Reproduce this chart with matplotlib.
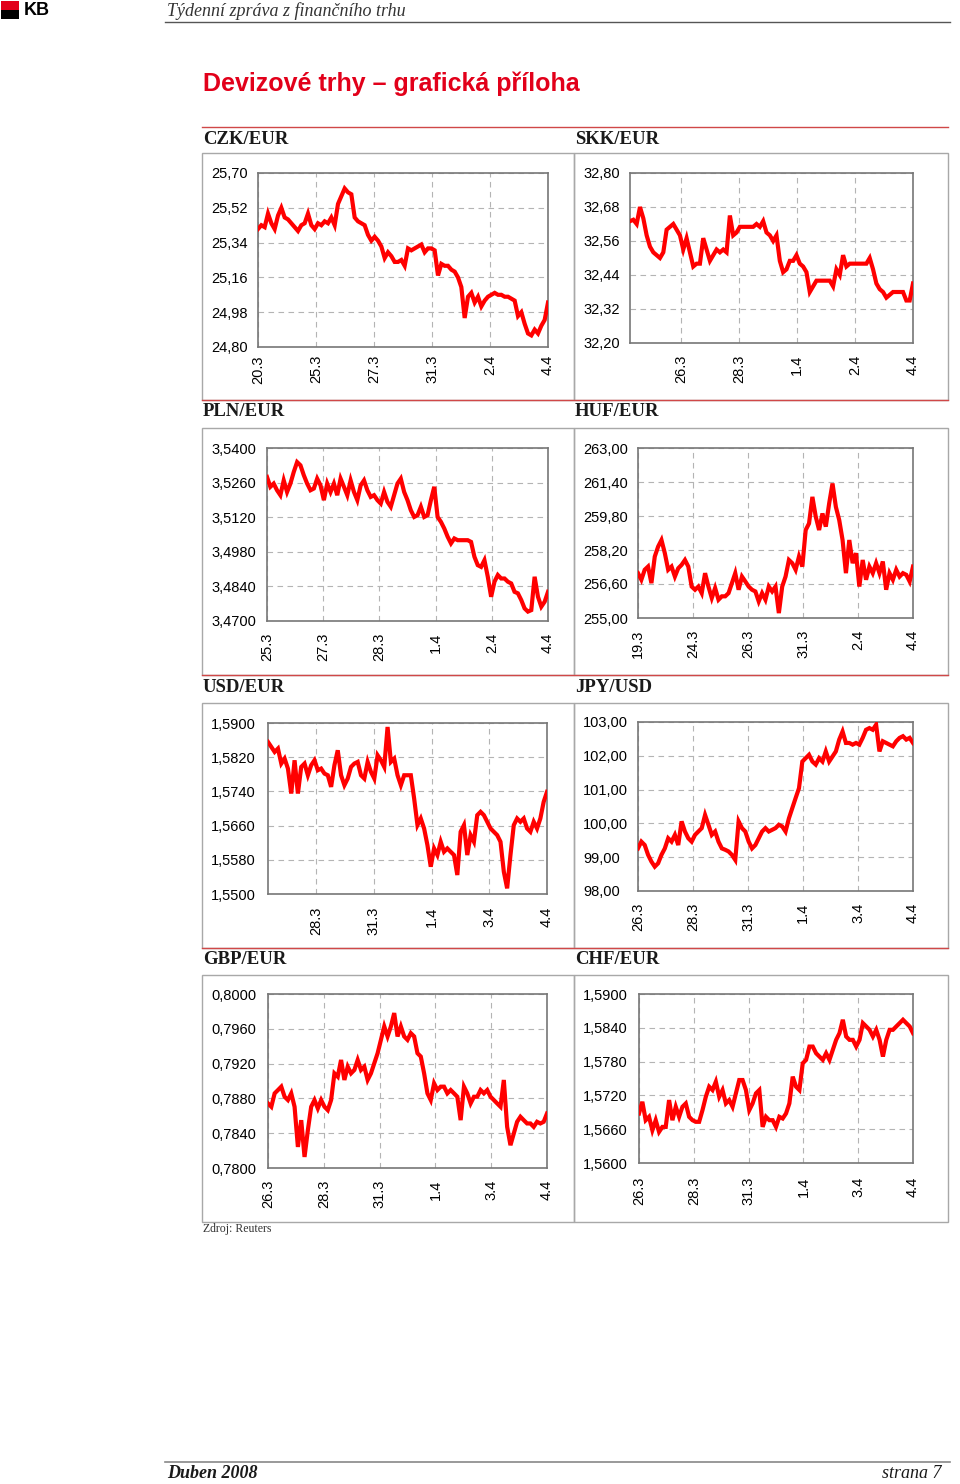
import numpy as np
import matplotlib

matplotlib.use("Agg")
import matplotlib.pyplot as plt  # noqa: E402
from matplotlib.patches import Rectangle  # noqa: E402

W, H = 960, 1484

czk_eur = [
    25.41, 25.43, 25.42, 25.49, 25.44, 25.41, 25.48, 25.52, 25.47, 25.46,
    25.44, 25.42, 25.40, 25.43, 25.44, 25.49, 25.43, 25.41, 25.44, 25.43,
    25.45, 25.44, 25.47, 25.43, 25.54, 25.58, 25.62, 25.60, 25.59, 25.47,
    25.45, 25.44, 25.43, 25.38, 25.35, 25.37, 25.35, 25.32, 25.26, 25.29,
    25.27, 25.24, 25.24, 25.25, 25.22, 25.31, 25.30, 25.31, 25.32, 25.33,
    25.29, 25.31, 25.31, 25.30, 25.17, 25.23, 25.22, 25.22, 25.20, 25.19,
    25.16, 25.11, 24.95, 25.06, 25.08, 25.03, 25.06, 25.01, 25.04, 25.06,
    25.07, 25.08, 25.07, 25.07, 25.06, 25.06, 25.05, 25.04, 24.96, 24.98,
    24.92, 24.87, 24.86, 24.89, 24.87, 24.91, 24.94, 25.03,
]
czk_ticks = ["20.3", "25.3", "27.3", "31.3", "2.4", "4.4"]

skk_eur = [
    32.63, 32.635, 32.62, 32.68, 32.64, 32.58, 32.54, 32.52, 32.51, 32.50,
    32.52, 32.60, 32.61, 32.62, 32.60, 32.58, 32.53, 32.57, 32.52, 32.47,
    32.48, 32.48, 32.57, 32.53, 32.49, 32.51, 32.53, 32.52, 32.53, 32.52,
    32.65, 32.58, 32.59, 32.61, 32.61, 32.61, 32.61, 32.61, 32.62, 32.61,
    32.63, 32.59, 32.58, 32.56, 32.58, 32.49, 32.45, 32.46, 32.49, 32.49,
    32.51, 32.48, 32.47, 32.45, 32.38, 32.40, 32.42, 32.42, 32.42, 32.42,
    32.42, 32.40, 32.46, 32.44, 32.51, 32.47, 32.48, 32.48, 32.48, 32.48,
    32.48, 32.48, 32.50, 32.46, 32.41, 32.39, 32.38, 32.36, 32.37, 32.38,
    32.38, 32.38, 32.38, 32.35, 32.35, 32.41,
]
skk_ticks = ["26.3", "28.3", "1.4", "2.4", "4.4"]

pln_eur = [
    3.5283, 3.5243, 3.5256, 3.5229, 3.5209, 3.5269, 3.5222, 3.5256, 3.5303, 3.5343,
    3.5330, 3.5290, 3.5256, 3.5229, 3.5236, 3.5276, 3.5249, 3.5189, 3.5256, 3.5222,
    3.5256, 3.5209, 3.5276, 3.5243, 3.5209, 3.5269, 3.5222, 3.5189, 3.5249, 3.5269,
    3.5229, 3.5202, 3.5209, 3.5189, 3.5175, 3.5222, 3.5182, 3.5162, 3.5209, 3.5256,
    3.5276, 3.5222, 3.5189, 3.5148, 3.5121, 3.5128, 3.5162, 3.5121, 3.5128, 3.5189,
    3.5243, 3.5121, 3.5101, 3.5074, 3.5041, 3.5014, 3.5034, 3.5027, 3.5027, 3.5027,
    3.5027, 3.5020, 3.4960, 3.4926, 3.4919, 3.4946, 3.4879, 3.4798, 3.4859, 3.4886,
    3.4872, 3.4872, 3.4859, 3.4852, 3.4818, 3.4812, 3.4785, 3.4751, 3.4738, 3.4744,
    3.4879, 3.4798, 3.4758, 3.4778, 3.4818,
]
pln_ticks = ["25.3", "27.3", "28.3", "1.4", "2.4", "4.4"]

huf_eur = [
    257.11, 256.80, 257.27, 257.42, 256.64, 257.89, 258.36, 258.67, 258.05, 257.27,
    257.42, 256.95, 257.34, 257.50, 257.73, 257.42, 256.48, 256.33, 256.48, 256.17,
    257.11, 256.48, 255.94, 256.41, 255.86, 256.02, 256.02, 256.17, 256.64, 257.11,
    256.33, 256.95, 256.72, 256.48, 256.33, 256.25, 255.78, 256.17, 255.86, 256.48,
    256.25, 256.48, 255.23, 256.48, 256.95, 257.73, 257.58, 257.27, 257.89, 257.42,
    259.14, 259.45, 260.70, 259.77, 259.14, 259.92, 259.30, 260.39, 261.33, 260.23,
    259.61, 258.67, 257.11, 258.67, 257.58, 258.05, 256.48, 257.73, 256.80, 257.42,
    257.11, 257.58, 257.11, 257.66, 256.33, 257.11, 256.80, 257.27, 256.95, 257.11,
    257.03, 256.72, 257.42,
]
huf_ticks = ["19.3", "24.3", "26.3", "31.3", "2.4", "4.4"]

usd_eur = [
    1.58556, 1.58440, 1.58323, 1.58401, 1.58051, 1.58167, 1.57934, 1.57350, 1.58128, 1.57350,
    1.57973, 1.58051, 1.57778, 1.58012, 1.58128, 1.57895, 1.57934, 1.57817, 1.57778, 1.57506,
    1.58012, 1.58362, 1.57778, 1.57545, 1.57700, 1.57973, 1.58051, 1.58090, 1.57778, 1.57700,
    1.58090, 1.57856, 1.57700, 1.58245, 1.58128, 1.57973, 1.58907, 1.58090, 1.58167, 1.57778,
    1.57545, 1.57778, 1.57778, 1.57778, 1.57233, 1.56611, 1.56767, 1.56533, 1.56144, 1.55638,
    1.56066, 1.55911, 1.56222, 1.55988, 1.56066, 1.55988, 1.55911, 1.55444, 1.56455, 1.56611,
    1.55911, 1.56377, 1.56222, 1.56844, 1.56922, 1.56844, 1.56689, 1.56533, 1.56455, 1.56377,
    1.56222, 1.55521, 1.55132, 1.55911, 1.56611, 1.56767, 1.56689, 1.56767, 1.56533, 1.56455,
    1.56689, 1.56533, 1.56767, 1.57156, 1.57389,
]
usd_ticks = ["28.3", "31.3", "1.4", "3.4", "4.4"]

jpy_usd = [
    99.26, 99.46, 99.36, 99.07, 98.87, 98.72, 98.82, 99.07, 99.26, 99.56,
    99.46, 99.66, 99.36, 100.06, 99.76, 99.56, 99.46, 99.66, 99.76, 99.86,
    100.25, 99.96, 99.66, 99.76, 99.46, 99.26, 99.22, 99.17, 99.07, 98.92,
    100.06, 99.86, 99.76, 99.46, 99.26, 99.36, 99.56, 99.76, 99.86, 99.76,
    99.81, 99.86, 99.96, 99.91, 99.76, 100.15, 100.45, 100.75, 101.04, 101.83,
    101.93, 102.03, 101.83, 101.74, 101.93, 101.83, 102.13, 101.83, 101.98, 102.13,
    102.48, 102.72, 102.38, 102.38, 102.33, 102.38, 102.33, 102.53, 102.77, 102.82,
    102.77, 102.92, 102.13, 102.43, 102.38, 102.33, 102.28, 102.43, 102.53, 102.58,
    102.48, 102.53, 102.38,
]
jpy_ticks = ["26.3", "28.3", "31.3", "1.4", "3.4", "4.4"]

gbp_eur = [
    0.78742, 0.78704, 0.78858, 0.78896, 0.78935, 0.78819, 0.78781, 0.78858, 0.78704, 0.78242,
    0.78550, 0.78127, 0.78435, 0.78704, 0.78781, 0.78685, 0.78781, 0.78704, 0.78665, 0.78781,
    0.79088, 0.79050, 0.79242, 0.79012, 0.79165, 0.79088, 0.79127, 0.79242, 0.79127, 0.79165,
    0.79012, 0.79088, 0.79204, 0.79319, 0.79473, 0.79627, 0.79512, 0.79627, 0.79781, 0.79512,
    0.79627, 0.79512, 0.79473, 0.79550, 0.79512, 0.79319, 0.79281, 0.79088, 0.78858, 0.78781,
    0.78973, 0.78896, 0.78935, 0.78935, 0.78858, 0.78896, 0.78858, 0.78819, 0.78550, 0.78935,
    0.78858, 0.78742, 0.78819, 0.78819, 0.78896, 0.78858, 0.78896, 0.78819, 0.78781, 0.78742,
    0.78704, 0.79012, 0.78473, 0.78262, 0.78396, 0.78531, 0.78589, 0.78550, 0.78512, 0.78512,
    0.78473, 0.78531, 0.78512, 0.78531, 0.78627,
]
gbp_ticks = ["26.3", "28.3", "31.3", "1.4", "3.4", "4.4"]

chf_eur = [
    1.56879, 1.57087, 1.56760, 1.56820, 1.56582, 1.56760, 1.56552, 1.56641, 1.56641, 1.57117,
    1.56760, 1.56998, 1.56820, 1.56998, 1.57057, 1.56820, 1.56760, 1.56731, 1.56731, 1.56938,
    1.57176, 1.57354, 1.57295, 1.57443, 1.57176, 1.57295, 1.57057, 1.57117, 1.56998, 1.57236,
    1.57473, 1.57473, 1.57295, 1.56938, 1.57057, 1.57236, 1.57295, 1.56641, 1.56820, 1.56760,
    1.56760, 1.56641, 1.56820, 1.56790, 1.56879, 1.57057, 1.57533, 1.57354, 1.57295, 1.57770,
    1.57830, 1.58067, 1.58067, 1.57948, 1.57889, 1.57830, 1.57948, 1.57830, 1.58008, 1.58186,
    1.58305, 1.58543, 1.58245, 1.58186, 1.58186, 1.58067, 1.58186, 1.58483, 1.58424, 1.58364,
    1.58245, 1.58364, 1.58186, 1.57889, 1.58186, 1.58364, 1.58364, 1.58424, 1.58483, 1.58543,
    1.58483, 1.58424, 1.58305,
]
chf_ticks = ["26.3", "28.3", "31.3", "1.4", "3.4", "4.4"]

# --- layout (pixels in a 960x1484 page) ---
RED = "#ff0000"
KB_RED = "#e2001a"
SEP_RED = "#d04848"
BOX_GREY = "#a8a8a8"

# name, values, x tick labels, y range, decimals, axes px (l, t, r, b),
# x start (tick units), y-label x, x-label pad px
PANELS = [
    ("CZK/EUR", czk_eur, czk_ticks, (24.80, 25.70), 2, (258, 173, 548, 347), 0.0, 211, 8),
    ("SKK/EUR", skk_eur, skk_ticks, (32.20, 32.80), 2, (630, 173, 913, 343), 0.122, 583, 12),
    ("PLN/EUR", pln_eur, pln_ticks, (3.47, 3.54), 4, (267, 448, 548, 621), 0.0, 211, 12),
    ("HUF/EUR", huf_eur, huf_ticks, (255.0, 263.0), 2, (638, 448, 913, 618), 0.0, 583, 12),
    ("USD/EUR", usd_eur, usd_ticks, (1.55, 1.59), 4, (268, 723, 547, 894), 0.164, 211, 13),
    ("JPY/USD", jpy_usd, jpy_ticks, (98.0, 103.0), 2, (638, 722, 913, 891), 0.0, 583, 12),
    ("GBP/EUR", gbp_eur, gbp_ticks, (0.78, 0.80), 4, (268, 994, 547, 1168), 0.0, 211, 12),
    ("CHF/EUR", chf_eur, chf_ticks, (1.56, 1.59), 4, (639, 994, 913, 1163), 0.0, 583, 14),
]

SECTIONS = [  # red line y, title y, box top, box bottom
    (127, 139, 153, 400),
    (400, 412, 428, 675),
    (675, 687, 703, 948),
    (948, 960, 975, 1222),
]


def fx(x):
    return x / W


def fy(y):
    return 1 - y / H


fig = plt.figure(figsize=(W / 100, H / 100), dpi=100)
fig.patch.set_facecolor("white")
page = fig.add_axes([0, 0, 1, 1])
page.set_xlim(0, W)
page.set_ylim(H, 0)
page.axis("off")

# header: logo, italic title, rule
page.add_patch(Rectangle((1, 1), 18, 9, color=KB_RED, lw=0))
page.add_patch(Rectangle((1, 10), 18, 9, color="black", lw=0))
page.text(24, 10.5, "KB", fontsize=13, fontweight="heavy", family="Liberation Sans",
          va="center", ha="left", color="black")
page.text(167, 11, "Týdenní zpráva z finančního trhu", fontsize=13, style="italic",
          family="Liberation Serif", va="center", ha="left", color="#333333")
page.plot([165, 950], [22, 22], color="#555555", lw=1.0)

page.text(203, 84, "Devizové trhy – grafická příloha", fontsize=18, fontweight="bold",
          family="Liberation Sans", va="center", ha="left", color=KB_RED)

for i, (line_y, title_y, box_top, box_bot) in enumerate(SECTIONS):
    left_name, right_name = PANELS[2 * i][0], PANELS[2 * i + 1][0]
    page.add_patch(Rectangle((202, box_top), 372, box_bot - box_top, fill=False,
                             ec=BOX_GREY, lw=1.0))
    page.add_patch(Rectangle((574, box_top), 374, box_bot - box_top, fill=False,
                             ec=BOX_GREY, lw=1.0))
    page.plot([202, 948], [line_y, line_y], color=SEP_RED, lw=1.0)
    page.text(203, title_y, left_name, fontsize=13.5, fontweight="bold",
              family="Liberation Serif", va="center", ha="left", color="#1a1a1a")
    page.text(575, title_y, right_name, fontsize=13.5, fontweight="bold",
              family="Liberation Serif", va="center", ha="left", color="#1a1a1a")

page.text(203, 1229, "Zdroj: Reuters", fontsize=8.5, family="Liberation Serif",
          va="center", ha="left", color="#333333")

# footer
page.plot([165, 950], [1462, 1462], color="#888888", lw=1.2)
page.text(167, 1474, "Duben 2008", fontsize=13, fontweight="bold", style="italic",
          family="Liberation Serif", va="center", ha="left", color="#1a1a1a")
page.text(942, 1474, "strana 7", fontsize=13, style="italic",
          family="Liberation Serif", va="center", ha="right", color="#1a1a1a")

# the eight rate panels
for name, vals, xlabels, (lo, hi), dec, (l, t, r, b), x0, lab_x, xpad in PANELS:
    ax = fig.add_axes([fx(l), fy(b), fx(r) - fx(l), fy(t) - fy(b)])
    xs = np.linspace(x0, 5, len(vals))
    ax.plot(xs, vals, color=RED, lw=3.0, solid_joinstyle="miter", zorder=3)
    ax.set_xlim(x0, 5)
    ax.set_ylim(lo, hi)
    yt = np.linspace(lo, hi, 6)
    ax.set_yticks(yt)
    ax.set_yticklabels([f"{v:.{dec}f}".replace(".", ",") for v in yt], ha="left",
                       family="Liberation Sans", fontsize=10.5)
    ax.tick_params(axis="y", length=0, pad=(l - lab_x) * 0.72)
    xt = np.arange(6 - len(xlabels), 6)
    ax.set_xticks(xt)
    ax.set_xticklabels(xlabels, rotation=90, family="Liberation Sans", fontsize=10.5)
    ax.tick_params(axis="x", length=0, pad=xpad * 0.72)
    ax.grid(True, color="#b4b4b4", lw=0.8, linestyle=(0, (5, 4)))
    ax.set_axisbelow(True)
    for sp in ax.spines.values():
        sp.set_color("#777777")
        sp.set_linewidth(1.2)

fig.savefig("out.png", dpi=100)
